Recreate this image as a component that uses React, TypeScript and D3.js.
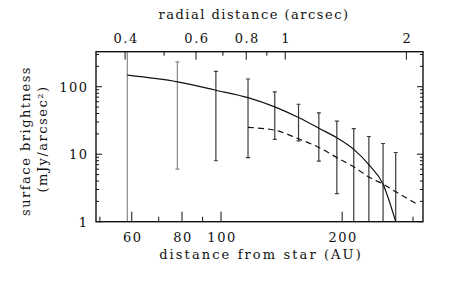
import * as d3 from "d3";

const width = 457;
const height = 288;
const margin = { top: 51.7, right: 34, bottom: 66.3, left: 96 };

// distance to the star in pc (arcsec -> AU)
const distancePc = 144.4;

// measured surface brightness with error bars
const radiusAU = [58.5, 77.9, 97.1, 116.7, 136, 155.8, 175, 194, 213.7, 233, 252.7, 271.7];
const errTop = [1000, 234, 169, 130, 84, 55, 41, 31, 24, 18.3, 14.4, 10.6];
const errBottom = [0.5, 6.0, 8.0, 8.9, 16.6, 15.8, 7.9, 2.6, 0.5, 0.5, 0.5, 0.5];

// model curves
const solidAU = [58.5, 77.9, 97.1, 116.7, 136, 155.8, 175, 194, 213.7, 233, 252.7, 271.7];
const solidVal = [148, 118, 88.7, 69, 50.3, 35, 24.3, 17.5, 11.8, 7.0, 3.6, 1.0];
const dashAU = [116.7, 136, 155.8, 175, 194, 213.7, 233, 252.7, 271.7, 310];
const dashVal = [24.9, 22.7, 16.9, 12.6, 8.9, 6.5, 4.6, 3.6, 2.78, 1.77];

// ticks
const auMajor = [60, 80, 100, 200];
const auMinor = [50, 70, 90, 300];
const arcMajor = [0.4, 0.6, 0.8, 1, 2];
const arcMinor = [0.5, 0.7, 0.9];
const yMajor = [1, 10, 100];
const yMinor = [2, 3, 4, 5, 6, 7, 8, 9, 20, 30, 40, 50, 60, 70, 80, 90, 200, 300];

const font = { fontFamily: "DejaVu Serif", fontSize: 13, letterSpacing: 1.5 };

export default function App() {
  const x0 = margin.left;
  const x1 = width - margin.right;
  const y0 = height - margin.bottom;
  const y1 = margin.top;

  const x = d3.scaleLog().domain([48.9, 317.6]).range([x0, x1]);
  const xTop = d3.scaleLog()
    .domain(x.domain().map(d => d / distancePc))
    .range([x0, x1]);
  const y = d3.scaleLog().domain([1, 330]).range([y0, y1]);

  const line = d3.line<[number, number]>()
    .x(d => x(d[0]))
    .y(d => y(d[1]))
    .curve(d3.curveMonotoneX);

  const solid = line(solidAU.map((a, i) => [a, solidVal[i]]));
  const dashed = line(dashAU.map((a, i) => [a, dashVal[i]]));

  const fmt = (v: number) => String(v);

  return (
    <svg width={width} height={height}
         style={{ position: "absolute", left: 0, top: 0, background: "#fff" }}>
      <defs>
        <clipPath id="frame">
          <rect x={x0} y={y1} width={x1 - x0} height={y0 - y1} />
        </clipPath>
      </defs>

      <g clipPath="url(#frame)">
        {radiusAU.map((a, i) => {
          const px = x(a);
          const color = i < 2 ? "#8a8a8a" : "#3a3a3a";
          return (
            <g key={i} stroke={color} strokeWidth={1.2}>
              <line x1={px} x2={px} y1={y(errTop[i])} y2={y(errBottom[i])} />
              <line x1={px - 2} x2={px + 2} y1={y(errTop[i])} y2={y(errTop[i])} />
              <line x1={px - 2} x2={px + 2} y1={y(errBottom[i])} y2={y(errBottom[i])} />
            </g>
          );
        })}
        <path d={solid ?? ""} fill="none" stroke="#111" strokeWidth={1.2} />
        <path d={dashed ?? ""} fill="none" stroke="#111" strokeWidth={1.2} strokeDasharray="6,4" />
      </g>

      {/* ticks */}
      <g stroke="#111" strokeWidth={1}>
        {auMajor.map(v => (
          <line key={"bM" + v} x1={x(v)} x2={x(v)} y1={y0} y2={y0 - 10} />
        ))}
        {auMinor.map(v => (
          <line key={"bm" + v} x1={x(v)} x2={x(v)} y1={y0} y2={y0 - 5} />
        ))}
        {arcMajor.map(v => (
          <line key={"tM" + v} x1={xTop(v)} x2={xTop(v)} y1={y1} y2={y1 + 8} />
        ))}
        {arcMinor.map(v => (
          <line key={"tm" + v} x1={xTop(v)} x2={xTop(v)} y1={y1} y2={y1 + 4} />
        ))}
        {yMajor.map(v => (
          <g key={"yM" + v}>
            <line x1={x0} x2={x0 + 6} y1={y(v)} y2={y(v)} />
            <line x1={x1} x2={x1 - 6} y1={y(v)} y2={y(v)} />
          </g>
        ))}
        {yMinor.map(v => (
          <g key={"ym" + v}>
            <line x1={x0} x2={x0 + 3} y1={y(v)} y2={y(v)} />
            <line x1={x1} x2={x1 - 3} y1={y(v)} y2={y(v)} />
          </g>
        ))}
      </g>

      <rect x={x0} y={y1} width={x1 - x0} height={y0 - y1}
            fill="none" stroke="#111" strokeWidth={1.4} />

      {/* tick labels */}
      <g {...font} fill="#111">
        {auMajor.map(v => (
          <text key={"bl" + v} x={x(v) + 1} y={y0 + 20} textAnchor="middle">{fmt(v)}</text>
        ))}
        {arcMajor.map(v => (
          <text key={"tl" + v} x={xTop(v) + 1} y={y1 - 8.4} textAnchor="middle">{fmt(v)}</text>
        ))}
        {yMajor.map(v => (
          <text key={"yl" + v} x={x0 - 7.5} y={y(v) + 5} textAnchor="end">{fmt(v)}</text>
        ))}
      </g>

      {/* axis titles */}
      <g {...font} fill="#111">
        <text x={254} y={18.5} textAnchor="middle">radial distance (arcsec)</text>
        <text x={261} y={259} textAnchor="middle" letterSpacing={2.1}>distance from star (AU)</text>
        <text transform={`translate(29.5,141) rotate(-90)`} textAnchor="middle">surface brightness</text>
        <text transform={`translate(47,139) rotate(-90)`} textAnchor="middle">(mJy/arcsec²)</text>
      </g>
    </svg>
  );
}
